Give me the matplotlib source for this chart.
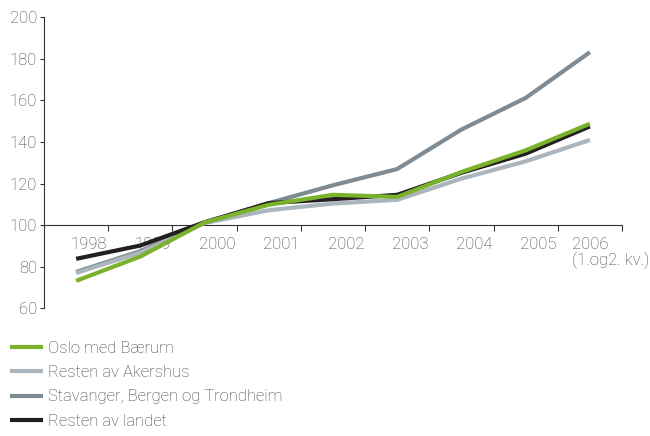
import matplotlib
matplotlib.use("Agg")
import matplotlib.pyplot as plt

years = ["1998", "1999", "2000", "2001", "2002", "2003", "2004", "2005", "2006\n(1.og2. kv.)"]

oslo = [73.2, 84.9, 101.3, 109.8, 114.6, 113.6, 125.6, 136.0, 148.8]
akershus = [77.0, 86.8, 101.0, 107.2, 110.4, 112.2, 122.4, 130.7, 141.0]
stavanger = [77.5, 87.5, 101.2, 110.6, 119.2, 127.0, 146.0, 161.2, 183.2]
landet = [83.8, 90.2, 101.4, 110.6, 112.5, 114.6, 125.2, 134.4, 147.5]

series = [
    ("Oslo med Bærum", oslo, "#7ab22b"),
    ("Resten av Akershus", akershus, "#aab5bd"),
    ("Stavanger, Bergen og Trondheim", stavanger, "#7f8b93"),
    ("Resten av landet", landet, "#231f20"),
]
draw_order = [2, 1, 3, 0]

plt.rcParams["font.family"] = ["Roboto", "DejaVu Sans"]
plt.rcParams["font.weight"] = "light"
text_color = "#404040"
fs = 12

fig = plt.figure(figsize=(6.5, 4.36), dpi=100)
ax = fig.add_axes([44 / 650, 1 - 308.3 / 436, 578 / 650, 291 / 436])

x = list(range(len(years)))
handles = {}
for i in draw_order:
    label, vals, color = series[i]
    (ln,) = ax.plot(x, vals, color=color, lw=3.0, solid_capstyle="butt",
                    solid_joinstyle="miter", zorder=3 + draw_order.index(i))
    handles[i] = ln

ax.set_xlim(-0.5, len(years) - 0.5)
ax.set_ylim(60, 200)
ax.set_yticks(range(60, 201, 20))
ax.tick_params(axis="y", direction="out", length=3, width=0.8, colors="#333333",
               labelcolor=text_color, labelsize=fs, pad=2)

ax.spines["top"].set_visible(False)
ax.spines["right"].set_visible(False)
ax.spines["left"].set_color("#333333")
ax.spines["left"].set_linewidth(0.8)
ax.spines["bottom"].set_position(("data", 100))
ax.spines["bottom"].set_color("#333333")
ax.spines["bottom"].set_linewidth(0.8)

ax.set_xticks([k + 0.5 for k in range(len(years))])
ax.set_xticklabels([])
ax.tick_params(axis="x", direction="out", length=4, width=0.8, colors="#333333")

# year labels sit a bit right of each category centre, under the lines
for k, lab in enumerate(years):
    if "\n" in lab:
        ax.text(k - 0.28, 94.5, lab, ha="left", va="top", fontsize=fs,
                color=text_color, zorder=1, linespacing=1.05)
    else:
        ax.text(k + 0.2, 94.5, lab, ha="center", va="top", fontsize=fs,
                color=text_color, zorder=1)

fig.legend([handles[i] for i in range(4)], [s[0] for s in series],
           loc="upper left", bbox_to_anchor=(10 / 650, 1 - 341 / 436),
           frameon=False, fontsize=fs, handlelength=2.0, handletextpad=0.3,
           labelspacing=0.55, borderaxespad=0, borderpad=0.0,
           labelcolor=text_color)

fig.savefig("out.png", dpi=100)
